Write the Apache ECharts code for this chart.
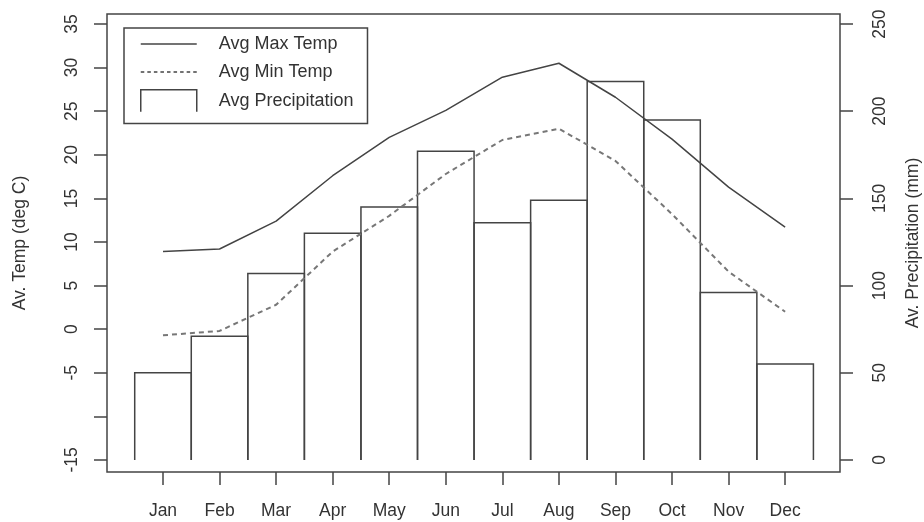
<!DOCTYPE html>
<html>
<head>
<meta charset="utf-8">
<script src="https://cdn.jsdelivr.net/npm/echarts@6/dist/echarts.min.js"></script>
<style>
  html, body { margin: 0; padding: 0; background: #fff; }
  #chart { width: 924px; height: 522px; }
</style>
</head>
<body>
<div id="chart"></div>
<script>
const months = ['Jan', 'Feb', 'Mar', 'Apr', 'May', 'Jun', 'Jul', 'Aug', 'Sep', 'Oct', 'Nov', 'Dec'];
const maxTemp = [8.9, 9.2, 12.4, 17.6, 22.0, 25.1, 28.9, 30.5, 26.6, 21.8, 16.3, 11.7];
const minTemp = [-0.7, -0.2, 2.8, 8.9, 13.0, 17.8, 21.7, 23.0, 19.3, 13.2, 6.6, 2.0];
const precip = [50, 71, 107, 130, 145, 177, 136, 149, 217, 195, 96, 55];
const tempTicks = [-15, -10, -5, 0, 5, 10, 15, 20, 25, 30, 35];
const tempLabels = [-15, -5, 0, 5, 10, 15, 20, 25, 30, 35];
const precipTicks = [0, 50, 100, 150, 200, 250];
const monthPos = months.map((m, i) => i + 1);

const FONT = "'Liberation Sans', Arial, Helvetica, sans-serif";
const INK = '#444';
const DASH = '#777';
const TXT = '#333';
const FS = 17.5;

// legend sample icons (styling only)
const solidIcon = 'path://M0,0h56v1.4h-56z';
let dashPath = 'path://';
for (let i = 0; i < 9; i++) { dashPath += 'M' + (i * 6.5) + ',0h3.5v1.4h-3.5z'; }
const dashIcon = dashPath;
const boxIcon = 'path://M0,22 L0,0 L56,0 L56,22';

const chart = echarts.init(document.getElementById('chart'), null, { renderer: 'canvas' });

const option = {
  animation: false,
  backgroundColor: '#fff',
  textStyle: { fontFamily: FONT, color: TXT },
  grid: {
    left: 107, top: 14, right: 84, bottom: 50,
    outerBoundsMode: 'none',
    containLabel: false,
    show: true, borderColor: INK, borderWidth: 1.5, backgroundColor: 'transparent'
  },
  legend: {
    orient: 'vertical',
    left: 124, top: 28,
    backgroundColor: '#fff',
    borderColor: INK, borderWidth: 1.5, borderRadius: 0,
    padding: [5, 14, 11, 16],
    itemWidth: 56, itemHeight: 22, itemGap: 6,
    symbolKeepAspect: true,
    textStyle: { fontFamily: FONT, fontSize: 18, lineHeight: 22, color: TXT, padding: [0, 0, 0, 17] },
    data: [
      { name: 'Avg Max Temp', icon: solidIcon, itemStyle: { color: INK, borderWidth: 0 } },
      { name: 'Avg Min Temp', icon: dashIcon, itemStyle: { color: INK, borderWidth: 0 } },
      {
        name: 'Avg Precipitation',
        icon: boxIcon,
        itemStyle: { color: 'transparent', borderColor: INK, borderWidth: 1.5 }
      }
    ]
  },
  xAxis: {
    type: 'value',
    min: 0.01, max: 12.97,
    axisLine: { show: false, onZero: false },
    splitLine: { show: false },
    axisTick: { show: true, length: 13, customValues: monthPos, lineStyle: { color: INK, width: 1.5 } },
    axisLabel: {
      customValues: monthPos,
      margin: 30,
      fontFamily: FONT, fontSize: FS, color: TXT,
      formatter: v => months[Math.round(v) - 1]
    }
  },
  yAxis: [
    {
      type: 'value',
      position: 'left',
      min: -16.38, max: 36.15,
      name: 'Av. Temp (deg C)',
      nameLocation: 'middle', nameRotate: 90, nameGap: 78,
      nameTextStyle: { fontFamily: FONT, fontSize: FS, color: TXT },
      axisLine: { show: false, onZero: false },
      splitLine: { show: false },
      axisTick: { show: true, length: 13, customValues: tempTicks, lineStyle: { color: INK, width: 1.5 } },
      axisLabel: {
        customValues: tempLabels,
        rotate: 90, margin: 26,
        fontFamily: FONT, fontSize: FS, color: TXT
      }
    },
    {
      type: 'value',
      position: 'right',
      min: -6.9, max: 255.75,
      name: 'Av. Precipitation (mm)',
      nameLocation: 'middle', nameRotate: 90, nameGap: 64,
      nameTextStyle: { fontFamily: FONT, fontSize: FS, color: TXT },
      axisLine: { show: false, onZero: false },
      splitLine: { show: false },
      axisTick: { show: true, length: 13, customValues: precipTicks, lineStyle: { color: INK, width: 1.5 } },
      axisLabel: {
        customValues: precipTicks,
        rotate: 90, margin: 31,
        fontFamily: FONT, fontSize: FS, color: TXT
      }
    }
  ],
  series: [
    {
      name: 'Avg Precipitation',
      type: 'custom',
      xAxisIndex: 0, yAxisIndex: 1,
      z: 1,
      itemStyle: { color: 'transparent', borderColor: INK },
      renderItem: function (params, api) {
        const x = api.value(0);
        const v = api.value(1);
        const bl = api.coord([x - 0.5, 0]);
        const tr = api.coord([x + 0.5, v]);
        return {
          type: 'polyline',
          shape: { points: [[bl[0], bl[1]], [bl[0], tr[1]], [tr[0], tr[1]], [tr[0], bl[1]]] },
          style: { fill: null, stroke: INK, lineWidth: 1.5 }
        };
      },
      data: precip.map((v, i) => [i + 1, v])
    },
    {
      name: 'Avg Max Temp',
      type: 'line',
      xAxisIndex: 0, yAxisIndex: 0,
      z: 3,
      symbol: 'none',
      itemStyle: { color: INK },
      lineStyle: { color: INK, width: 1.5, type: 'solid' },
      data: maxTemp.map((v, i) => [i + 1, v])
    },
    {
      name: 'Avg Min Temp',
      type: 'line',
      xAxisIndex: 0, yAxisIndex: 0,
      z: 3,
      symbol: 'none',
      itemStyle: { color: DASH },
      lineStyle: { color: DASH, width: 2, type: [5, 4] },
      data: minTemp.map((v, i) => [i + 1, v])
    }
  ]
};

chart.setOption(option);
</script>
</body>
</html>
